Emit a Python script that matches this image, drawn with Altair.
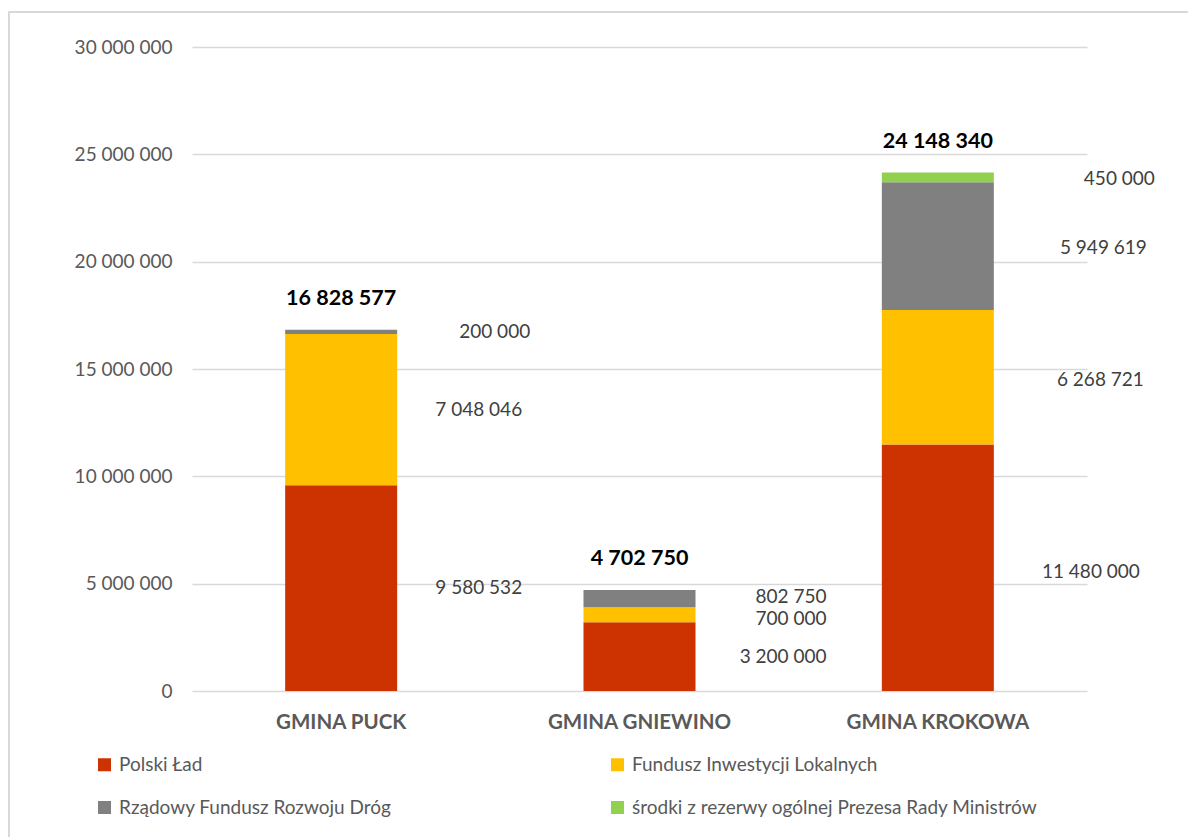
import altair as alt
import pandas as pd

categories = ["GMINA PUCK", "GMINA GNIEWINO", "GMINA KROKOWA"]
series = [
    "Polski Ład",
    "Fundusz Inwestycji Lokalnych",
    "Rządowy Fundusz Rozwoju Dróg",
    "środki z rezerwy ogólnej Prezesa Rady Ministrów",
]
polski_lad = [9580532, 3200000, 11480000]
fundusz_inw = [7048046, 700000, 6268721]
rzadowy_fundusz = [200000, 802750, 5949619]
srodki_rezerwy = [0, 0, 450000]
totals = [16828577, 4702750, 24148340]
y_ticks = [0, 5000000, 10000000, 15000000, 20000000, 25000000, 30000000]

colors = ["#CC3300", "#FFC000", "#808080", "#92D050"]

values_by_series = [polski_lad, fundusz_inw, rzadowy_fundusz, srodki_rezerwy]


def fmt(v):
    return f"{v:,}".replace(",", " ")


rows = []
for ci, cat in enumerate(categories):
    base = 0
    for si, s in enumerate(series):
        v = values_by_series[si][ci]
        rows.append(dict(cat=cat, series=s, order=si, value=v, start=base,
                         end=base + v, mid=base + v / 2, label=fmt(v),
                         key=f"{ci}-{si}"))
        base += v
df = pd.DataFrame(rows)
df_bars = df[df.value > 0]

tot_df = pd.DataFrame(dict(cat=categories, total=totals,
                           label=[fmt(t) for t in totals]))

FONT = "Lato"

# label placement styles (right edge offset from bar centre, vertical nudge)
label_style = {
    "0-0": (181, 0), "0-1": (181, 0), "0-2": (189, 0),
    "1-0": (187, 0), "1-1": (187, 4), "1-2": (187, -2),
    "2-0": (202, 4), "2-1": (206, 3), "2-2": (209, 2), "2-3": (217, 2),
}

# legend is laid out column by column: order entries so rows read as in reference
legend_order = [series[0], series[2], series[1], series[3]]

x_enc = alt.X("cat:N", sort=categories,
              scale=alt.Scale(paddingInner=0, paddingOuter=0),
              axis=alt.Axis(title=None, labelAngle=0, labelFont=FONT,
                            labelFontWeight="bold", labelFontSize=20.5,
                            labelColor="#595959", ticks=False, domain=False,
                            labelPadding=21, grid=False, labelLimit=400))
y_scale = alt.Scale(domain=[0, 30000000], nice=False)

bars = alt.Chart(df_bars).mark_bar(size=112).encode(
    x=x_enc,
    y=alt.Y("start:Q", scale=y_scale,
            axis=alt.Axis(title=None, values=y_ticks, format=",d",
                          labelFont=FONT, labelFontSize=19,
                          labelColor="#595959", ticks=False, domain=False,
                          gridColor="#d9d9d9", gridWidth=1.3,
                          labelPadding=20)),
    y2="end:Q",
    color=alt.Color("series:N", sort=series,
                    scale=alt.Scale(domain=series, range=colors),
                    legend=alt.Legend(title=None, orient="none",
                                      legendX=-97, legendY=708,
                                      values=legend_order,
                                      columns=2, columnPadding=216,
                                      rowPadding=23, symbolType="square",
                                      symbolSize=169, symbolStrokeWidth=0,
                                      labelFont=FONT, labelFontSize=19,
                                      labelColor="#595959", labelOffset=5,
                                      labelLimit=600)),
)

layers = [bars]
for key, (dx, dy) in label_style.items():
    layers.append(
        alt.Chart(df_bars).transform_filter(alt.datum.key == key)
        .mark_text(align="right", baseline="middle", dx=dx, dy=dy,
                   font=FONT, fontSize=19, color="#404040")
        .encode(x=alt.X("cat:N", sort=categories), y=alt.Y("mid:Q"),
                text="label:N")
    )

tot = alt.Chart(tot_df).mark_text(
    baseline="middle", dy=-31, font=FONT, fontSize=21.5, fontWeight="bold",
    color="#000000"
).encode(x=alt.X("cat:N", sort=categories), y=alt.Y("total:Q"),
         text="label:N")
layers.append(tot)

border = alt.Chart(tot_df).mark_rect(
    fill=None, stroke="#d9d9d9", strokeWidth=1.5, clip=False
).encode(x=alt.value(-183), x2=alt.value(1010), y=alt.value(-35),
         y2=alt.value(800))

chart = alt.layer(border, *layers).properties(
    width=895, height=644,
    autosize=alt.AutoSizeParams(type="none"),
    padding={"left": 184, "top": 39, "right": 101, "bottom": 146},
).configure(
    locale={"number": {"decimal": ",", "thousands": " ", "grouping": [3],
                       "currency": ["", " zł"]}}
).configure_view(stroke=None).configure_axis(gridColor="#d9d9d9")

chart.save("out.html", embed_options={"renderer": "svg", "actions": False})
